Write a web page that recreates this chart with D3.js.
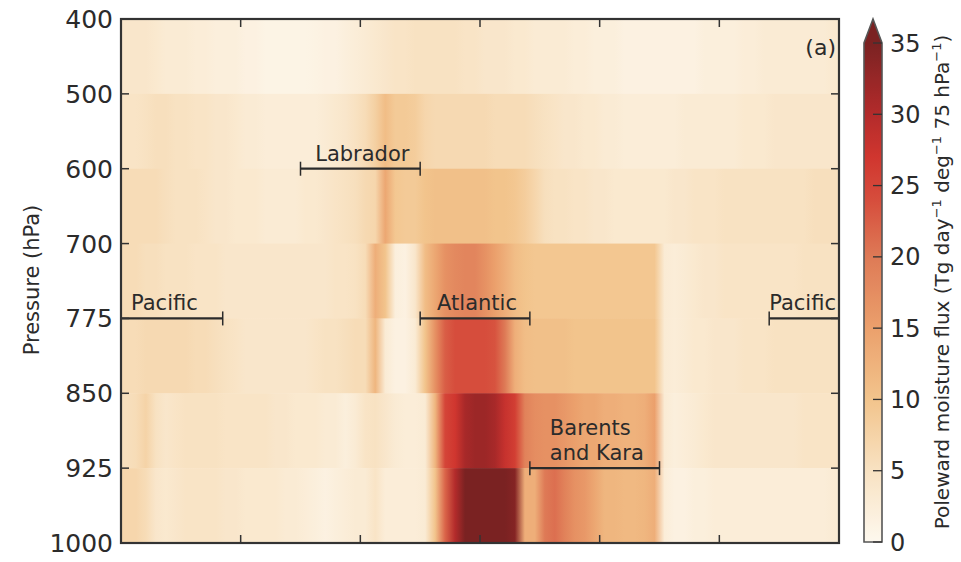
<!DOCTYPE html>
<html>
<head>
<meta charset="utf-8">
<script src="https://cdn.jsdelivr.net/npm/d3@7"></script>
<style>
  body { margin: 0; background: #fff; }
  text { font-family: "DejaVu Sans", sans-serif; fill: #2b2b2b; }
</style>
</head>
<body>
<svg id="chart" width="961" height="562"></svg>
<script>
// pressure levels (row boundaries, top to bottom)
const levels = [400, 500, 600, 700, 775, 850, 925, 1000];
// column longitudes (5 degree bins)
const lons = d3.range(72).map((i) => 2.5 + 5 * i);
const xTicks = [0, 60, 120, 180, 240, 300, 360];
const cbTicks = [0, 5, 10, 15, 20, 25, 30, 35];

// poleward moisture flux per layer, one value per 5 degree column
const flux400 = [
  4, 4, 4, 3.5, 3, 3, 3, 2.5, 2.5, 2, 2, 2,
  1.5, 1.5, 1, 1, 1, 1, 1, 1.2, 1.5, 1.5, 2, 2.5,
  3, 3.5, 4, 4.5, 4.5, 5, 5, 5, 5, 5, 4.5, 4.5,
  4, 4, 4, 3.5, 3.5, 3, 3, 3, 3, 2.5, 2.5, 2,
  2, 2, 1.5, 1.5, 1.5, 1.5, 1.5, 1.5, 1.5, 1.5, 2, 2,
  2, 2, 2.5, 2.5, 3, 3, 3, 3, 3, 3, 3, 3.5
];
const flux500 = [
  4.5, 4.5, 5, 5.5, 5.5, 5, 5, 4.5, 4.5, 4, 4, 3.5,
  3, 3, 2.5, 2.5, 2.5, 2.5, 2.5, 2.5, 3, 3.5, 4, 5,
  6, 8, 11, 9, 9, 8.5, 7, 6.5, 6.5, 6.5, 6.5, 6.5,
  6.5, 6, 6, 6, 6, 5.5, 5, 4.5, 4, 4, 3.5, 3.5,
  3, 3, 2.5, 2.5, 2.5, 2.5, 2.5, 2.5, 3, 3, 3, 3,
  3, 3, 3.5, 3.5, 3.5, 4, 4, 4, 4, 4, 4, 4
];
const flux600 = [
  6, 6, 6, 6, 5.5, 5, 5, 5, 4.5, 4, 4, 3.5,
  3.5, 3.5, 3, 3, 3, 3, 3.5, 3.5, 4, 4.5, 5, 5.5,
  6.5, 7, 14, 9.5, 9, 9, 10, 10.5, 10.5, 10.5, 10.5, 10.5,
  10.5, 10, 10, 9.5, 8.5, 7, 5.5, 5, 5, 4.5, 4.5, 4,
  4, 3.5, 3.5, 3.5, 3.5, 3.5, 3.5, 4, 4, 4.5, 4.5, 4.5,
  5, 5, 5, 5, 5, 5, 5, 5, 5, 5.5, 5.5, 5.5
];
const flux700 = [
  6, 6, 5.5, 5.5, 5, 5, 5, 4.5, 4.5, 4.5, 4, 4,
  4, 4, 4, 4, 4, 4, 4, 4, 4, 4.5, 4.5, 5,
  6, 13, 10, 2, 1.5, 4, 11, 14, 17, 18, 18.5, 18.5,
  17, 15, 13, 11, 10, 9.5, 9.5, 9.5, 9.5, 9.5, 9.5, 9.5,
  9.5, 9.5, 9.5, 9.5, 9.5, 9.5, 3, 2.5, 3, 3.5, 4, 4,
  4.5, 4.5, 4.5, 4.5, 4.5, 4.5, 4.5, 4.5, 5, 5, 5, 5
];
const flux775 = [
  6, 6, 6.5, 6.5, 6.5, 6.5, 6.5, 6, 6, 5.5, 5, 4.5,
  4, 4, 4, 4, 4, 4, 4, 4.5, 5, 5, 5.5, 6,
  6, 12, 3, 1.5, 1.5, 3, 10, 17, 22.5, 24, 24, 24,
  24, 23.5, 20, 13, 11, 10.5, 10.5, 10.5, 10.5, 10, 10, 10,
  10, 10, 10, 10, 10, 10, 3, 2.5, 3, 3.5, 3.5, 4,
  4, 4, 4.5, 4.5, 4.5, 5, 5, 5, 5, 5, 5, 5
];
const flux850 = [
  5.5, 6, 7.5, 5, 4, 4.5, 5, 5, 5, 5, 4.5, 4.5,
  4.5, 4.5, 4.5, 4, 4, 3.5, 3.5, 3.5, 3, 3, 2, 3,
  4.5, 5, 4, 3, 2.5, 2.5, 3, 12, 25, 27, 31, 32,
  32, 31, 28, 26, 19, 17.5, 17, 17, 16, 15, 14, 14,
  13, 13, 12.5, 12.5, 13, 15, 3, 2, 2.5, 3, 3.5, 4,
  4, 4, 4, 4, 4, 4, 4, 4, 4.5, 4.5, 4.5, 4.5
];
const flux925 = [
  7, 7, 6, 4, 3.5, 4, 4.5, 4.5, 4.5, 4.5, 4, 4,
  3.5, 3.5, 3.5, 3.5, 3, 3, 2.5, 2, 1.5, 2, 2.5, 3,
  3, 4.5, 2.5, 2.5, 2.5, 2.5, 3, 10, 22, 30, 36, 36,
  36, 36, 36, 34, 13, 13, 20, 21, 19, 17, 16, 14,
  12, 12, 11.5, 11.5, 12, 13, 2.5, 1.5, 1.5, 2, 2, 2.5,
  2.5, 2.5, 2.5, 2.5, 2.5, 2.5, 2.5, 2.5, 2.5, 2.5, 2.5, 3
];
const layers = [flux400, flux500, flux600, flux700, flux775, flux850, flux925];

// region brackets along a pressure level
const regions = [
  { name: ["Labrador"], from: 90, to: 150, level: 2, caps: [true, true] },
  { name: ["Pacific"], from: 0, to: 51, level: 4, caps: [false, true], anchor: "start", pad: 10 },
  { name: ["Atlantic"], from: 150, to: 205, level: 4, caps: [true, true] },
  { name: ["Pacific"], from: 325, to: 360, level: 4, caps: [true, false], anchor: "start", pad: 0 },
  { name: ["Barents", "and Kara"], from: 205, to: 270, level: 6, caps: [true, true], anchor: "start", pad: 20 }
];

const svg = d3.select("#chart");
const margin = { left: 121, top: 19, right: 122, bottom: 19 };
const width = 961 - margin.left - margin.right;
const height = 562 - margin.top - margin.bottom;

const x = d3.scaleLinear().domain([0, 360]).range([margin.left, margin.left + width]);
const y = d3.scalePoint().domain(levels).range([margin.top, margin.top + height]);

// colour map, cream -> orange -> red -> dark red
const colour = d3.scaleLinear()
  .domain([0, 5, 10, 15, 20, 24, 27, 30, 35])
  .range(["#fdf8ee", "#f8e2c2", "#f2c48c", "#eba06c", "#de7a56", "#d64d3c", "#d0362f", "#b32b2b", "#7a2222"])
  .clamp(true);

const defs = svg.append("defs");

// one gradient per layer, stops at column centres
layers.forEach((vals, r) => {
  const g = defs.append("linearGradient")
    .attr("id", "row" + r)
    .attr("gradientUnits", "userSpaceOnUse")
    .attr("x1", x(0)).attr("x2", x(360)).attr("y1", 0).attr("y2", 0);
  vals.forEach((v, i) => {
    g.append("stop")
      .attr("offset", lons[i] / 360)
      .attr("stop-color", colour(v));
  });
});

// heat map rows
svg.append("g")
  .selectAll("rect")
  .data(layers)
  .join("rect")
  .attr("x", x(0))
  .attr("width", x(360) - x(0))
  .attr("y", (d, i) => y(levels[i]))
  .attr("height", (d, i) => y(levels[i + 1]) - y(levels[i]) + 0.5)
  .attr("fill", (d, i) => `url(#row${i})`);

// region brackets
const ann = svg.append("g").attr("class", "regions");
regions.forEach((reg) => {
  const yy = y(levels[reg.level]);
  const x0 = x(reg.from), x1 = x(reg.to);
  ann.append("line")
    .attr("x1", x0).attr("x2", x1).attr("y1", yy).attr("y2", yy)
    .attr("stroke", "#2b2b2b").attr("stroke-width", 2.2);
  [x0, x1].forEach((cx, k) => {
    if (!reg.caps[k]) return;
    ann.append("line")
      .attr("x1", cx).attr("x2", cx).attr("y1", yy - 7).attr("y2", yy + 7)
      .attr("stroke", "#2b2b2b").attr("stroke-width", 1.5);
  });
  const start = reg.anchor === "start";
  const tx = start ? x0 + reg.pad : (x0 + x1) / 2 + 2;
  const n = reg.name.length;
  reg.name.forEach((line, j) => {
    ann.append("text")
      .attr("x", tx)
      .attr("y", yy - 8 - (n - 1 - j) * 25)
      .attr("text-anchor", start ? "start" : "middle")
      .style("font-size", "21px")
      .text(line);
  });
});

// panel letter
svg.append("text")
  .attr("x", x(360) - 3).attr("y", 55)
  .attr("text-anchor", "end")
  .style("font-size", "22px")
  .text("(a)");

// axes frame with inward ticks
const frame = svg.append("g");
frame.append("rect")
  .attr("x", x(0)).attr("y", margin.top)
  .attr("width", x(360) - x(0)).attr("height", height)
  .attr("fill", "none").attr("stroke", "#333").attr("stroke-width", 2.2);

const tickLen = 8;
xTicks.slice(1, -1).forEach((t) => {
  frame.append("line").attr("x1", x(t)).attr("x2", x(t))
    .attr("y1", margin.top + height).attr("y2", margin.top + height - tickLen)
    .attr("stroke", "#333").attr("stroke-width", 1.5);
  frame.append("line").attr("x1", x(t)).attr("x2", x(t))
    .attr("y1", margin.top).attr("y2", margin.top + tickLen)
    .attr("stroke", "#333").attr("stroke-width", 1.5);
});
levels.slice(1, -1).forEach((l) => {
  frame.append("line").attr("x1", x(0)).attr("x2", x(0) + tickLen)
    .attr("y1", y(l)).attr("y2", y(l))
    .attr("stroke", "#333").attr("stroke-width", 1.5);
  frame.append("line").attr("x1", x(360)).attr("x2", x(360) - tickLen)
    .attr("y1", y(l)).attr("y2", y(l))
    .attr("stroke", "#333").attr("stroke-width", 1.5);
});

// y tick labels
svg.append("g")
  .selectAll("text")
  .data(levels)
  .join("text")
  .attr("x", x(0) - 8)
  .attr("y", (d) => y(d))
  .attr("dy", "0.36em")
  .attr("text-anchor", "end")
  .style("font-size", "25px")
  .text((d) => d);

svg.append("text")
  .attr("transform", "translate(39, 280) rotate(-90)")
  .attr("text-anchor", "middle")
  .style("font-size", "21px")
  .text("Pressure (hPa)");

// colour bar
const cbX = 864, cbW = 18;
const cy = d3.scaleLinear().domain([0, 35]).range([542, 43]);

const cbGrad = defs.append("linearGradient")
  .attr("id", "cbgrad")
  .attr("gradientUnits", "userSpaceOnUse")
  .attr("x1", 0).attr("x2", 0).attr("y1", cy(0)).attr("y2", cy(35));
d3.range(0, 35.01, 0.5).forEach((v) => {
  cbGrad.append("stop").attr("offset", v / 35).attr("stop-color", colour(v));
});

const cb = svg.append("g");
cb.append("rect")
  .attr("x", cbX).attr("y", cy(35))
  .attr("width", cbW).attr("height", cy(0) - cy(35))
  .attr("fill", "url(#cbgrad)");
cb.append("path")
  .attr("d", `M${cbX},${cy(35)} L${cbX + cbW / 2},${cy(35) - 24} L${cbX + cbW},${cy(35)} Z`)
  .attr("fill", colour(36));
cb.append("path")
  .attr("d", `M${cbX},${cy(0)} L${cbX},${cy(35)} L${cbX + cbW / 2},${cy(35) - 24} L${cbX + cbW},${cy(35)} L${cbX + cbW},${cy(0)} Z`)
  .attr("fill", "none").attr("stroke", "#555").attr("stroke-width", 1.6);

cbTicks.forEach((t) => {
  cb.append("line")
    .attr("x1", cbX + cbW).attr("x2", cbX + cbW - 9)
    .attr("y1", cy(t)).attr("y2", cy(t))
    .attr("stroke", "#333").attr("stroke-width", 1.3);
  cb.append("text")
    .attr("x", cbX + cbW + 8).attr("y", cy(t))
    .attr("dy", "0.36em")
    .style("font-size", "24px")
    .text(t);
});

// colour bar label with superscripts
const lab = svg.append("text")
  .attr("transform", "translate(949, 282) rotate(-90)")
  .attr("text-anchor", "middle")
  .style("font-size", "20px");
const parts = [["Poleward moisture flux (Tg day", false], ["\u22121", true], [" deg", false], ["\u22121", true], [" 75 hPa", false], ["\u22121", true], [")", false]];
parts.forEach(([s, sup]) => {
  lab.append("tspan")
    .attr("dy", sup ? -8 : 8)
    .style("font-size", sup ? "13px" : "20px")
    .text(s);
});
lab.select("tspan").attr("dy", 0);
</script>
</body>
</html>
